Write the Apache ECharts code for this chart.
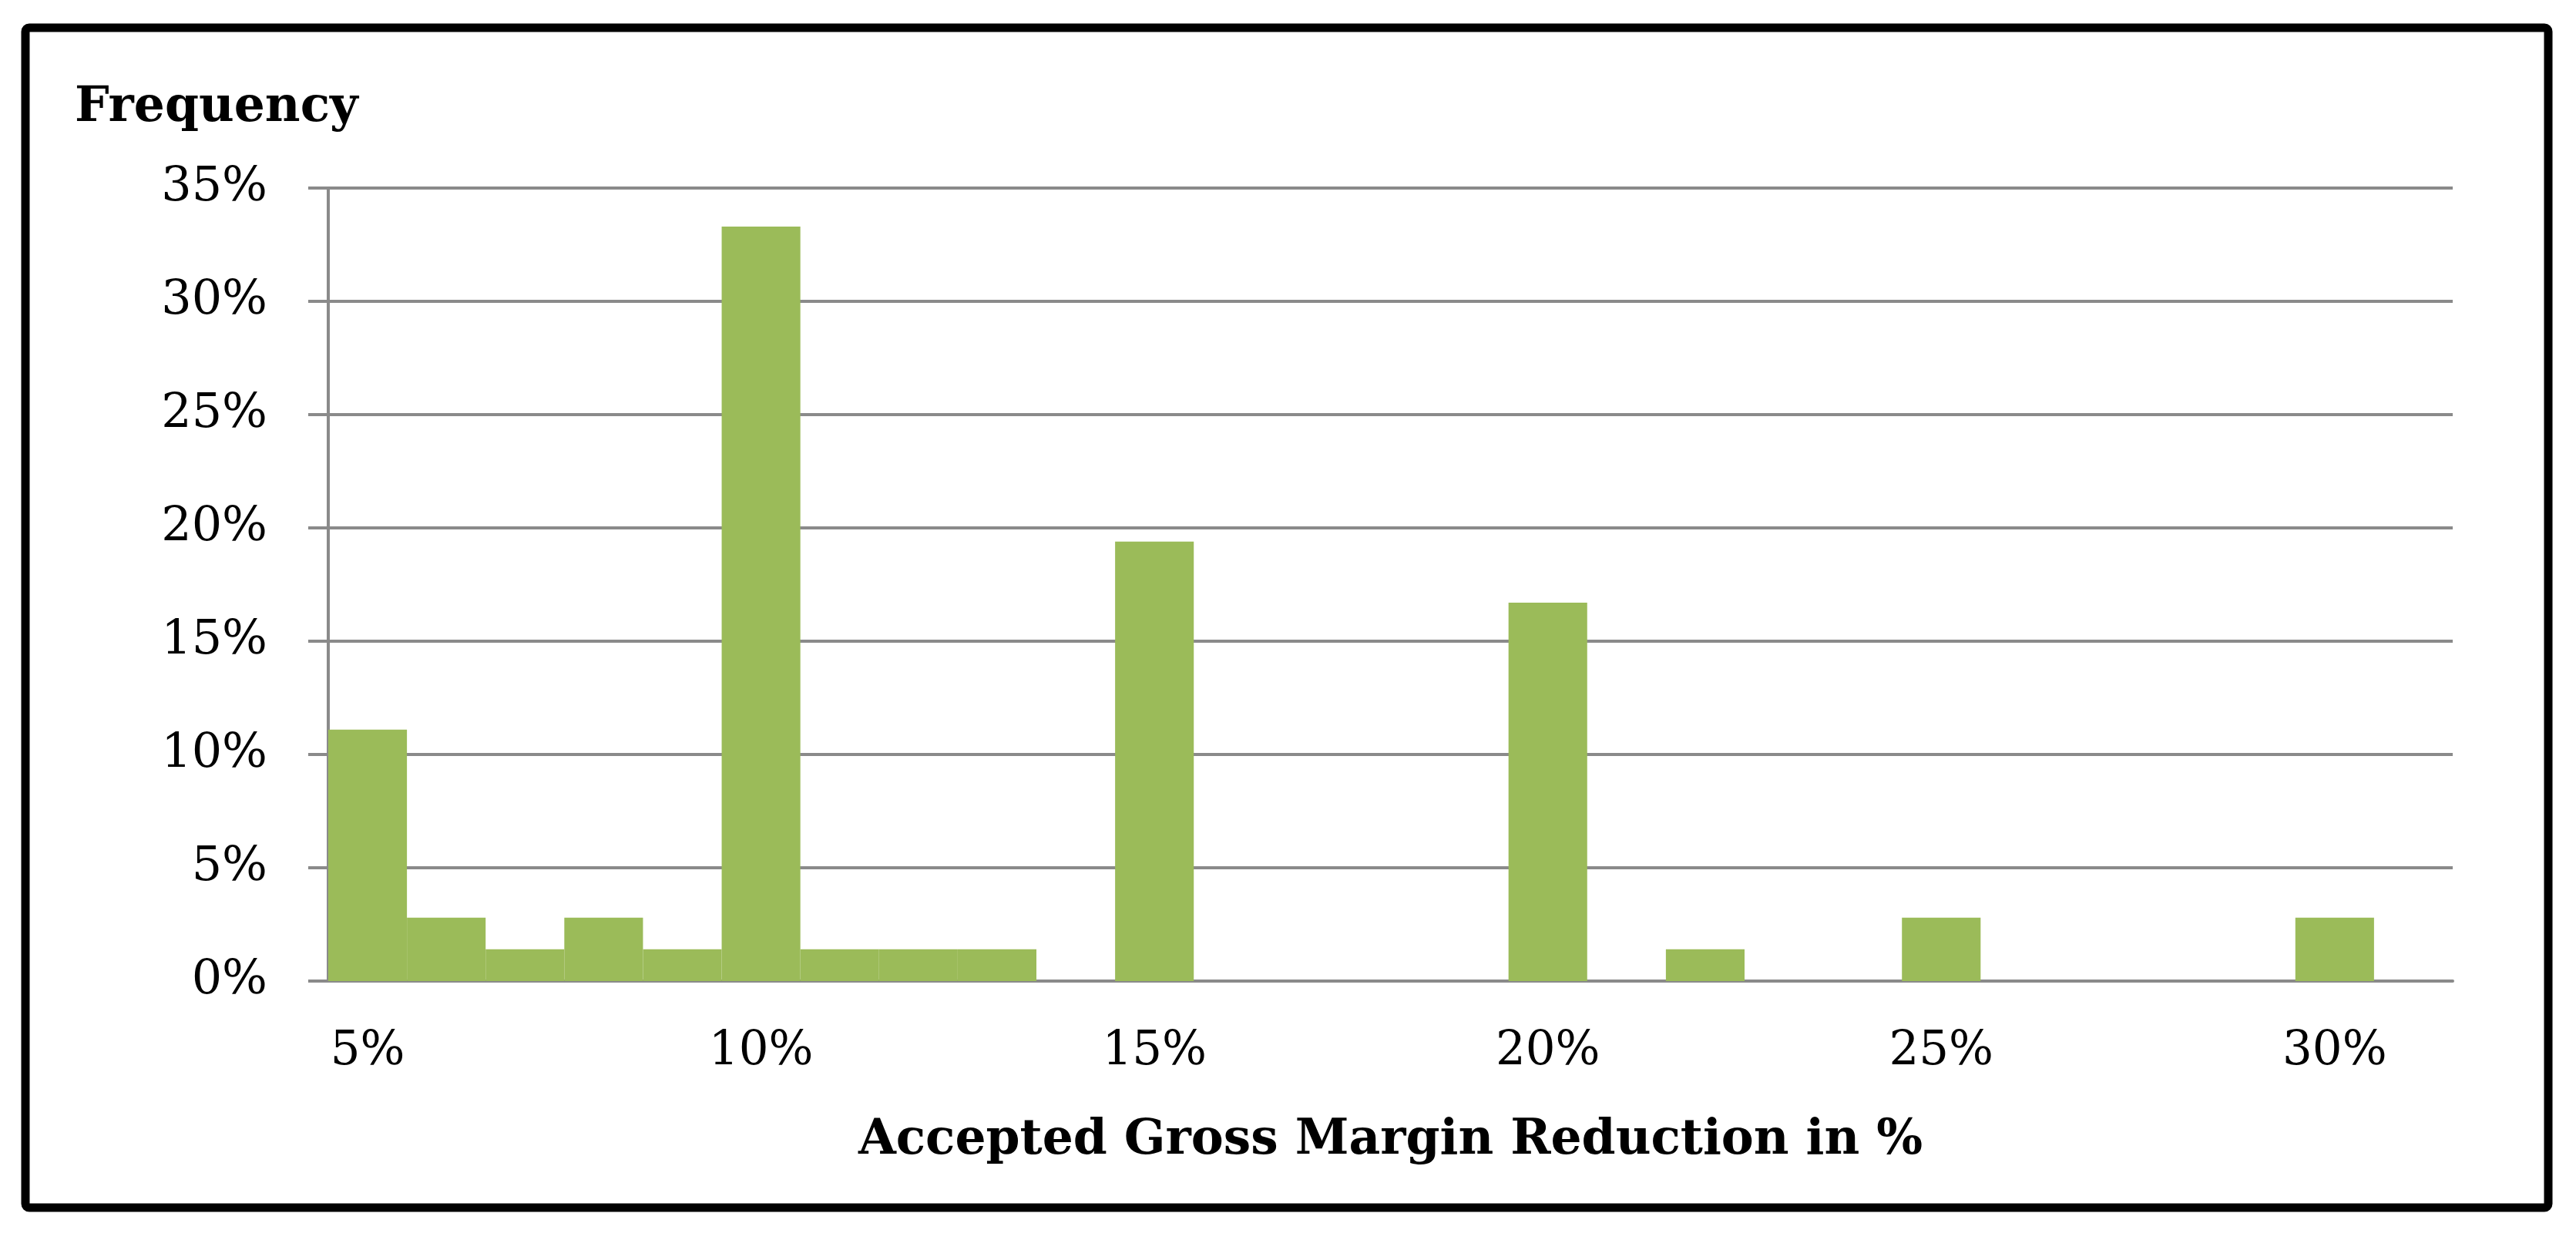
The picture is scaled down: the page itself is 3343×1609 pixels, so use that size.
<!DOCTYPE html>
<html>
<head>
<meta charset="utf-8">
<script src="https://cdn.jsdelivr.net/npm/echarts@6/dist/echarts.min.js"></script>
<style>
html,body{margin:0;padding:0;background:#fff;}
#chart{width:3343px;height:1609px;}
</style>
</head>
<body>
<div id="chart"></div>
<script>
// Categories: accepted gross margin reduction (%)
const categories = ['5%','6%','7%','8%','9%','10%','11%','12%','13%','14%','15%','16%','17%','18%','19%','20%','21%','22%','23%','24%','25%','26%','27%','28%','29%','30%','31%'];
// Frequency (% of respondents)
const frequency = [11.1, 2.8, 1.4, 2.8, 1.4, 33.3, 1.4, 1.4, 1.4, 0, 19.4, 0, 0, 0, 0, 16.7, 0, 1.4, 0, 0, 2.8, 0, 0, 0, 0, 2.8, 0];
const yTicks = { min: 0, max: 35, interval: 5 };
const yTitle = 'Frequency';
const xTitle = 'Accepted Gross Margin Reduction in %';

const FONT = 'DejaVu Serif';
const GRAY = '#8a8a8a';

const chart = echarts.init(document.getElementById('chart'));
chart.setOption({
  backgroundColor: '#ffffff',
  animation: false,
  title: {
    text: yTitle,
    left: 92,
    top: 104,
    textStyle: { fontFamily: FONT, fontWeight: 'bold', fontSize: 63, color: '#000' }
  },
  graphic: [{
    type: 'rect',
    shape: { x: 33, y: 36, width: 3274, height: 1531, r: 5 },
    style: { fill: 'none', stroke: '#000', lineWidth: 11 },
    z: 100
  }],
  grid: { left: 426, right: 160, top: 244, bottom: 336, containLabel: false },
  xAxis: {
    type: 'category',
    data: categories,
    boundaryGap: true,
    axisLine: { show: true, lineStyle: { color: GRAY, width: 4 } },
    axisTick: { show: false },
    axisLabel: { interval: 4, margin: 62, fontFamily: FONT, fontSize: 61, color: '#000' },
    name: xTitle,
    nameLocation: 'middle',
    nameGap: 176,
    nameTextStyle: { fontFamily: FONT, fontWeight: 'bold', fontSize: 63, color: '#000' }
  },
  yAxis: {
    type: 'value',
    min: yTicks.min,
    max: yTicks.max,
    interval: yTicks.interval,
    axisLine: { show: true, lineStyle: { color: GRAY, width: 4 } },
    axisTick: { show: true, length: 26, lineStyle: { color: GRAY, width: 4 } },
    splitLine: { show: true, lineStyle: { color: GRAY, width: 4 } },
    axisLabel: { formatter: '{value}%', margin: 79, fontFamily: FONT, fontSize: 62, color: '#000' }
  },
  series: [{
    type: 'bar',
    data: frequency,
    barCategoryGap: '0%',
    itemStyle: { color: '#9BBB59' }
  }]
});
</script>
</body>
</html>
